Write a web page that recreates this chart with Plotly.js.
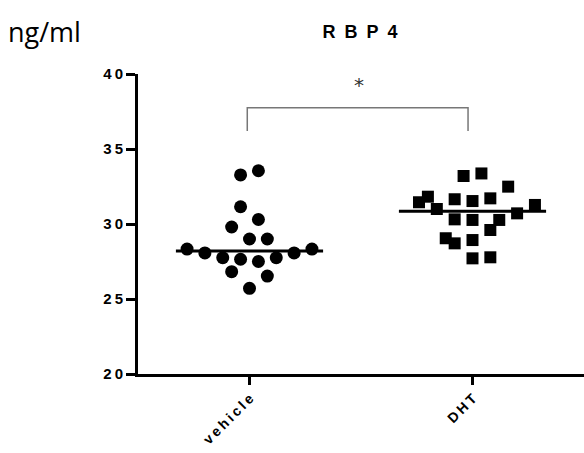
<!DOCTYPE html>
<html>
<head>
<meta charset="utf-8">
<script src="https://cdn.plot.ly/plotly-3.0.1.min.js"></script>
<style>html,body{margin:0;padding:0;background:#fff;}#chart{width:584px;height:453px;}</style>
</head>
<body>
<div id="chart"></div>
<script>
// ---- data ----
const categories = ['vehicle', 'DHT'];
const vehicleValues = [33.27, 33.55, 31.15, 30.3, 29.8, 29.0, 29.0, 28.33, 28.07, 27.75, 27.65, 27.5, 27.75, 28.07, 28.33, 26.82, 26.53, 25.71];
const vehicleSlots  = [-1, 1, -1, 1, -2, 0, 2, -7, -5, -3, -1, 1, 3, 5, 7, -2, 2, 0];
const dhtValues = [33.2, 33.37, 32.49, 31.45, 31.82, 31.0, 31.65, 31.53, 31.71, 31.27, 30.71, 30.31, 30.27, 30.27, 29.6, 29.05, 28.71, 28.93, 27.71, 27.78];
const dhtSlots  = [-1, 1, 4, -6, -5, -4, -2, 0, 2, 7, 5, -2, 0, 3, 2, -3, -2, 0, 0, 2];
const yTickValues = [20, 25, 30, 35, 40];
const significanceLabel = '*';
const chartTitle = 'RBP4';
const unitLabel = 'ng/ml';

// ---- helpers ----
const SLOT = 0.04, HALF = 0.33;
const spaced = (s, sep) => String(s).split('').join(sep || '\u2009');
function median(a) {
  const s = a.slice().sort((p, q) => p - q);
  const m = Math.floor(s.length / 2);
  return s.length % 2 ? s[m] : (s[m - 1] + s[m]) / 2;
}
const groups = [
  {vals: vehicleValues, slots: vehicleSlots, symbol: 'circle', size: 13},
  {vals: dhtValues, slots: dhtSlots, symbol: 'square', size: 12}
];
const traces = [];
groups.forEach((g, i) => {
  traces.push({
    type: 'scatter', mode: 'markers',
    x: g.slots.map(s => i + s * SLOT), y: g.vals,
    marker: {symbol: g.symbol, size: g.size, color: '#000', line: {width: 0}},
    hoverinfo: 'y', showlegend: false, cliponaxis: false
  });
  const md = median(g.vals);
  traces.push({
    type: 'scatter', mode: 'lines',
    x: [i - HALF, i + HALF], y: [md, md],
    line: {color: '#000', width: 3}, hoverinfo: 'skip', showlegend: false
  });
});
// significance bracket between the two groups
const bracketLow = 36.2, bracketHigh = 37.75;
traces.push({
  type: 'scatter', mode: 'lines',
  x: [-0.01, -0.01, 0.98, 0.98], y: [bracketLow, bracketHigh, bracketHigh, bracketLow],
  line: {color: '#777', width: 1.5}, hoverinfo: 'skip', showlegend: false, cliponaxis: false
});

const FONT = 'Liberation Sans, Arial, sans-serif';
const layout = {
  width: 584, height: 453,
  margin: {l: 138, r: 0, t: 74, b: 79},
  paper_bgcolor: '#fff', plot_bgcolor: '#fff',
  showlegend: false,
  title: {
    text: '<b>' + spaced(chartTitle, '\u2002') + '</b>',
    font: {family: FONT, size: 18, color: '#000'},
    x: 360 / 584, xanchor: 'center', xref: 'container',
    y: 1 - 32 / 453, yanchor: 'middle', yref: 'container'
  },
  xaxis: {
    range: [-0.5, 1.5], tickmode: 'array', tickvals: categories.map((c, i) => i),
    ticktext: categories.map(c => spaced(c)), tickangle: -45,
    ticks: 'outside', ticklen: 8, tickwidth: 3, tickcolor: '#000',
    showline: true, linewidth: 3, linecolor: '#000',
    showgrid: false, zeroline: false, fixedrange: true,
    tickfont: {family: FONT, size: 14, color: '#000', weight: 'bold'}
  },
  yaxis: {
    range: [20, 40], tickmode: 'array', tickvals: yTickValues,
    ticktext: yTickValues.map(v => spaced(v)),
    ticks: 'outside', ticklen: 9, tickwidth: 3, tickcolor: '#000',
    showline: true, linewidth: 3, linecolor: '#000',
    showgrid: false, zeroline: false, fixedrange: true,
    tickfont: {family: FONT, size: 15, color: '#000', weight: 'bold'}
  },
  annotations: [
    {text: significanceLabel, x: 0.49, y: 39.25, xref: 'x', yref: 'y', showarrow: false,
     font: {family: 'DejaVu Sans, sans-serif', size: 20, color: '#333'}, xanchor: 'center', yanchor: 'middle'},
    {text: unitLabel, xref: 'paper', yref: 'paper', x: (6 - 138) / 446, y: (374 - 31) / 300,
     xanchor: 'left', yanchor: 'middle', showarrow: false,
     font: {family: 'Open Sans, sans-serif', size: 27, color: '#000'}}
  ]
};
Plotly.newPlot('chart', traces, layout, {displayModeBar: false, staticPlot: true});
</script>
</body>
</html>
